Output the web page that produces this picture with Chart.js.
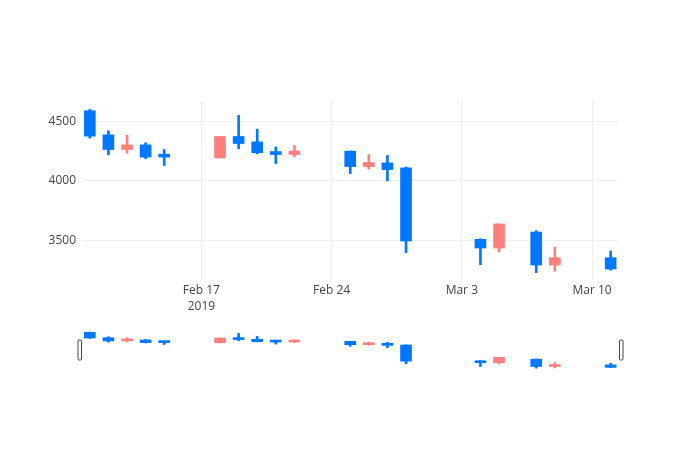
<!DOCTYPE html>
<html>
<head>
<meta charset="utf-8">
<script src="https://cdn.jsdelivr.net/npm/chart.js@4/dist/chart.umd.min.js"></script>
<style>
  body { margin: 0; background: #fff; }
  #wrap { position: relative; width: 700px; height: 450px; }
  .layer { position: absolute; left: 0; top: 0; width: 700px; }
</style>
</head>
<body>
<div id="wrap">
  <div class="layer" style="height:320px"><canvas id="mainChart"></canvas></div>
  <div class="layer" style="height:450px"><canvas id="sliderChart"></canvas></div>
</div>
<script>
// trading days and OHLC values
const dates = ['2019-02-11', '2019-02-12', '2019-02-13', '2019-02-14', '2019-02-15',
  '2019-02-18', '2019-02-19', '2019-02-20', '2019-02-21', '2019-02-22',
  '2019-02-25', '2019-02-26', '2019-02-27', '2019-02-28',
  '2019-03-04', '2019-03-05', '2019-03-07', '2019-03-08', '2019-03-11'];
const openPrices  = [4587, 4385, 4262, 4301, 4210, 4192, 4371, 4326, 4245, 4220, 4248, 4119, 4150, 4108, 3509, 3436, 3570, 3293, 3355];
const highPrices  = [4598, 4419, 4382, 4318, 4262, 4372, 4548, 4433, 4284, 4296, 4250, 4220, 4212, 4116, 3514, 3638, 3582, 3444, 3411];
const lowPrices   = [4357, 4217, 4231, 4184, 4128, 4190, 4268, 4226, 4144, 4200, 4060, 4097, 3999, 3397, 3296, 3402, 3229, 3240, 3251];
const closePrices = [4374, 4262, 4301, 4198, 4198, 4371, 4312, 4234, 4220, 4250, 4119, 4153, 4094, 3495, 3436, 3638, 3293, 3355, 3260];

const xTickDates = ['2019-02-17', '2019-02-24', '2019-03-03', '2019-03-10'];
const xTickLabels = [['Feb 17', '2019'], 'Feb 24', 'Mar 3', 'Mar 10'];
const yTicks = [3500, 4000, 4500];

const upColor = '#ff7f7f';
const downColor = '#0077ff';
const fontFamily = '"Open Sans", "Noto Sans", sans-serif';

const DAY = 86400000;
const t0 = Date.parse(dates[0]);
const toDay = d => (Date.parse(d) - t0) / DAY;

const xs = dates.map(toDay);
const colors = openPrices.map((o, i) => closePrices[i] >= o ? upColor : downColor);
const wickData = xs.map((x, i) => ({ x: x, y: [lowPrices[i], highPrices[i]] }));
const bodyData = xs.map((x, i) => ({ x: x, y: [openPrices[i], closePrices[i]] }));
const xTickValues = xTickDates.map(toDay);

function candleSets(minBody) {
  return [
    {
      data: wickData,
      backgroundColor: colors,
      barThickness: 2,
      grouped: false,
      borderWidth: 0
    },
    {
      data: bodyData,
      backgroundColor: colors,
      barThickness: 11,
      minBarLength: minBody,
      grouped: false,
      borderWidth: 0
    }
  ];
}

const xMin = -0.42, xMax = 28.45;

new Chart(document.getElementById('mainChart'), {
  type: 'bar',
  data: { datasets: candleSets(3) },
  options: {
    responsive: true,
    maintainAspectRatio: false,
    animation: false,
    layout: { padding: { top: 100, right: 81, left: 0, bottom: 0 } },
    plugins: { legend: { display: false }, tooltip: { enabled: false } },
    scales: {
      x: {
        type: 'linear',
        min: xMin,
        max: xMax,
        offset: false,
        afterBuildTicks: s => { s.ticks = xTickValues.map(v => ({ value: v })); },
        afterFit: s => { s.height = 40; },
        ticks: {
          autoSkip: false,
          maxRotation: 0,
          padding: 3,
          color: '#444',
          font: { family: fontFamily, size: 12, lineHeight: 1.3 },
          callback: (v, i) => xTickLabels[i]
        },
        grid: { color: '#eee', drawTicks: false, offset: false },
        border: { display: false }
      },
      y: {
        min: 3168,
        max: 4677,
        afterBuildTicks: s => { s.ticks = yTicks.map(v => ({ value: v })); },
        afterFit: s => { s.width = 82; },
        ticks: {
          padding: 6,
          color: '#444',
          font: { family: fontFamily, size: 12 },
          callback: v => String(v)
        },
        grid: { color: '#eee', drawTicks: false },
        border: { display: false }
      }
    }
  }
});

// little grab handles at both ends of the range slider
const handles = {
  id: 'handles',
  afterDraw(chart) {
    const ctx = chart.ctx, a = chart.chartArea;
    const mid = (a.top + a.bottom) / 2;
    ctx.save();
    ctx.fillStyle = '#fff';
    ctx.strokeStyle = '#444';
    ctx.lineWidth = 1;
    [a.left - 4, a.right + 0.5].forEach(x => {
      ctx.beginPath();
      ctx.roundRect(x, mid - 10, 3.5, 20, 1);
      ctx.fill();
      ctx.stroke();
    });
    ctx.restore();
  }
};

new Chart(document.getElementById('sliderChart'), {
  type: 'bar',
  data: { datasets: candleSets(2) },
  options: {
    responsive: true,
    maintainAspectRatio: false,
    animation: false,
    layout: { padding: { top: 330, right: 81, left: 82, bottom: 80 } },
    plugins: { legend: { display: false }, tooltip: { enabled: false } },
    scales: {
      x: { type: 'linear', min: xMin, max: xMax, offset: false, display: false },
      y: { min: 3160, max: 4676, display: false }
    }
  },
  plugins: [handles]
});
</script>
</body>
</html>
